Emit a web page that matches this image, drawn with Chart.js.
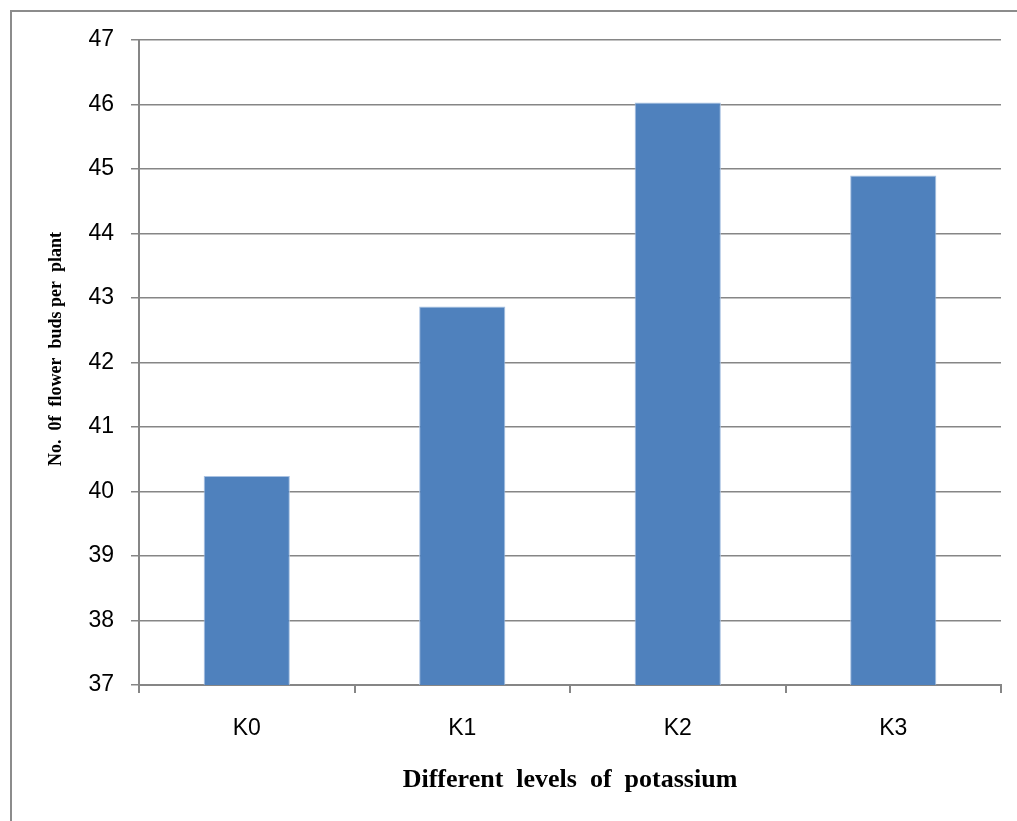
<!DOCTYPE html>
<html>
<head>
<meta charset="utf-8">
<script src="https://cdn.jsdelivr.net/npm/chart.js@4.4.0/dist/chart.umd.min.js"></script>
<style>
  html, body { margin: 0; padding: 0; background: #fff; }
  #wrap { width: 1017px; height: 821px; position: relative; }
</style>
</head>
<body>
<div id="wrap"><canvas id="chart"></canvas></div>
<script>
const categories = ['K0', 'K1', 'K2', 'K3'];
const budsPerPlant = [40.24, 42.87, 46.03, 44.9];
const yTicks = [37, 38, 39, 40, 41, 42, 43, 44, 45, 46, 47];

const gridGray = '#868686';

// outer frame of the chart object (only left and top edges are inside the window)
const frame = {
  id: 'frame',
  beforeDraw(chart) {
    const ctx = chart.ctx;
    ctx.save();
    ctx.fillStyle = '#fff';
    ctx.fillRect(0, 0, chart.width, chart.height);
    ctx.strokeStyle = '#8c8c8c';
    ctx.lineWidth = 2;
    ctx.strokeRect(11, 11, chart.width + 20, chart.height + 20);
    ctx.restore();
  }
};

new Chart(document.getElementById('chart'), {
  type: 'bar',
  data: {
    labels: categories,
    datasets: [{
      data: budsPerPlant,
      backgroundColor: '#4f81bd',
      borderColor: '#a9c2e2',
      borderWidth: { left: 1, right: 1, top: 1, bottom: 0 },
      barPercentage: 0.4,
      categoryPercentage: 1
    }]
  },
  options: {
    responsive: true,
    maintainAspectRatio: false,
    animation: false,
    layout: { padding: { top: 40, right: 16, left: 0, bottom: 0 } },
    plugins: { legend: { display: false }, tooltip: { enabled: false } },
    scales: {
      x: {
        afterFit(scale) { scale.height = 136; },
        grid: { drawOnChartArea: false, drawTicks: true, tickLength: 8, color: gridGray, lineWidth: 2 },
        border: { color: gridGray, width: 2 },
        ticks: { color: '#000', padding: 22, font: { family: 'Liberation Sans', size: 23 } },
        title: {
          display: true,
          text: 'Different  levels  of  potassium',
          color: '#000',
          font: { family: 'Liberation Serif', size: 26, weight: 'bold' },
          padding: { top: 0, bottom: 25 }
        }
      },
      y: {
        min: 37,
        max: 47,
        afterFit(scale) { scale.width = 139; },
        afterBuildTicks(scale) { scale.ticks = yTicks.map(v => ({ value: v })); },
        grid: { color: gridGray, lineWidth: 1.5, tickLength: 8 },
        border: { color: gridGray, width: 2 },
        ticks: { color: '#000', padding: 17, font: { family: 'Liberation Sans', size: 23 } },
        title: {
          display: true,
          text: '      No.  0f  flower  buds per  plant',
          color: '#000',
          font: { family: 'Liberation Serif', size: 18, weight: 'bold' },
          padding: { top: 46, bottom: 0 }
        }
      }
    }
  },
  plugins: [frame]
});
</script>
</body>
</html>
